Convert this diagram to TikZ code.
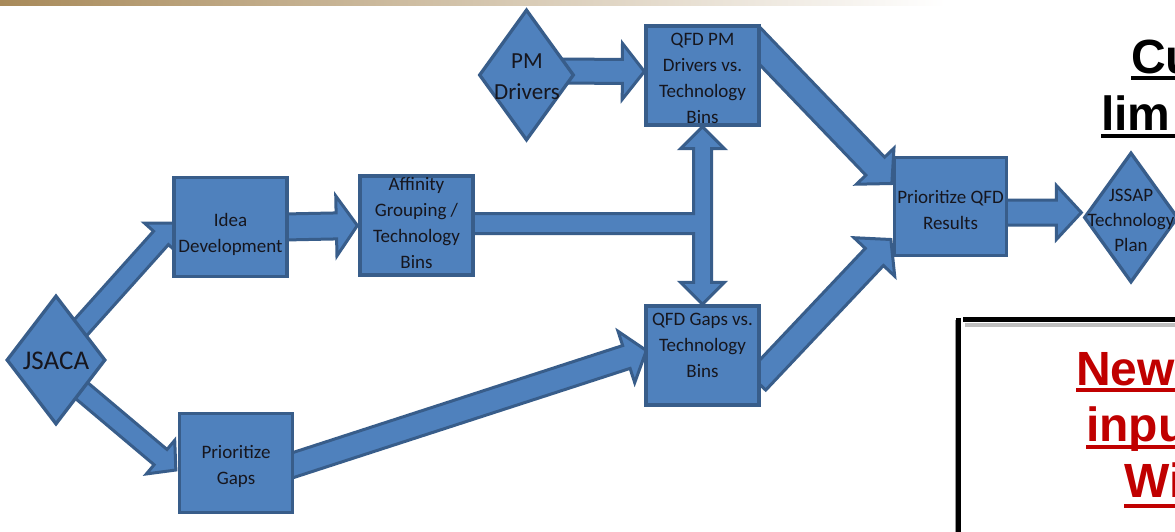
\documentclass[tikz,border=0pt]{standalone}
\usepackage{fontspec}
\setmainfont{Carlito}
\setsansfont{Liberation Sans}
\usetikzlibrary{shapes.geometric,calc,backgrounds}
\definecolor{boxfill}{HTML}{4F81BD}
\definecolor{boxline}{HTML}{385D8A}
\definecolor{txtc}{HTML}{16161E}
\definecolor{redt}{HTML}{C00000}
\definecolor{barA}{RGB}{168,138,90}
\definecolor{barB}{RGB}{218,200,176}
\newcommand\blockarr[5]{%
  \coordinate (bas) at (#1);
  \coordinate (bae) at (#2);
  \coordinate (bab) at ($(bae)!#5!(bas)$);
  \draw[arrowshape] ($(bas)!#3!90:(bae)$) -- ($(bab)!#3!90:(bae)$) -- ($(bab)!#4!90:(bae)$) -- (bae) -- ($(bab)!#4!-90:(bae)$) -- ($(bab)!#3!-90:(bae)$) -- ($(bas)!#3!-90:(bae)$) -- cycle;
}
\tikzset{
  box/.style={draw=boxline, fill=boxfill, line width=3.3pt, minimum width=113pt, minimum height=99pt, inner sep=0pt},
  dia/.style={draw=boxline, fill=boxfill, line width=3.3pt, diamond, inner sep=0pt},
  lbl/.style={align=center, text=txtc, inner sep=0pt, font=\fontsize{19pt}{26pt}\selectfont},
  arrowshape/.style={draw=boxline, fill=boxfill, line width=3pt, line join=miter},
  bigtxt/.style={font=\fontsize{48pt}{56pt}\selectfont\sffamily\bfseries, inner sep=0pt, anchor=base west},
  uline/.style={line width=3.3pt},
}
\begin{document}
\begin{tikzpicture}[x=1pt,y=-1pt]
\useasboundingbox (0,0) rectangle (1175,531);
\begin{scope}[on background layer]
  \fill[white] (0,0) rectangle (1175,531);
\end{scope}
\clip (0,0) rectangle (1175,531);
% top bar
\shade[left color=barA, middle color=barB, right color=white] (0,0) rectangle (945,5);

% nodes
\node[dia, minimum width=99pt, minimum height=129pt] (jsaca) at (56,360) {};
\node[dia, minimum width=95pt, minimum height=131pt] (pmd) at (526.5,75) {};
\node[dia, minimum width=94pt, minimum height=130pt] (jssap) at (1131,217.5) {};
\node[box] (idea) at (230.5,227) {};
\node[box] (gaps) at (236,463) {};
\node[box] (aff) at (416.5,225.5) {};
\node[box] (qgaps) at (702.5,355.5) {};
\node[box] (qpm) at (702.5,75.5) {};
\node[box, minimum width=112pt, minimum height=98pt] (prio) at (950.5,206.5) {};

% texts
\node[lbl, font=\fontsize{27pt}{30pt}\selectfont] (jsacat) at (56,361) {JSACA};
\node[lbl, font=\fontsize{23pt}{31pt}\selectfont] (pmdt) at (527,77) {PM\\Drivers};
\node[lbl, font=\fontsize{19pt}{25pt}\selectfont] (jssapt) at (1131,220) {JSSAP\\Technology\\Plan};
\node[lbl] (ideat) at (230.5,234) {Idea\\Development};
\node[lbl] (gapst) at (236,466) {Prioritize\\Gaps};
\node[lbl] (afft) at (416.5,223) {Affinity\\Grouping /\\Technology\\Bins};
\node[lbl] (qgapst) at (702.5,345) {QFD Gaps vs.\\Technology\\Bins};
\node[lbl] (qpmt) at (702.5,78) {QFD PM\\Drivers vs.\\Technology\\Bins};
\node[lbl] (priot) at (950.5,210) {Prioritize QFD\\Results};

% connectors (behind the nodes)
\begin{scope}[on background layer]
  \blockarr{$(jsaca)+(0,-5)$}{$(idea.west)+(2,-4)$}{10pt}{22pt}{20pt}
  \blockarr{$(jsaca)+(0,9)$}{$(gaps.west)+(-2,7)$}{10pt}{22pt}{20pt}
  \blockarr{$(idea.east)+(-5,0)$}{$(aff.west)+(-1,0)$}{13pt}{30pt}{21pt}
  \blockarr{$(pmd)+(20,-4)$}{$(qpm.west)+(0,-4)$}{12pt}{28pt}{22pt}
  \blockarr{$(gaps.east)+(-10,5)$}{$(qgaps.west)+(2,-5)$}{12pt}{27pt}{21pt}
  \blockarr{$(qpm.east)+(-9,-38)$}{$(prio.west)+(-1,-23)$}{13pt}{26pt}{24pt}
  \blockarr{$(qgaps.east)+(-4,26)$}{$(prio.west)+(-2,33)$}{12.5pt}{28pt}{24pt}
  \blockarr{$(prio.east)+(-5,6)$}{$(jssap.west)+(-1,-5)$}{12.5pt}{27pt}{25pt}
  % affinity bar joined to the two-headed vertical arrow
  \draw[arrowshape]
    ($(aff.east)+(-5,-12)$) -- ($(qpm.south|-aff.east)+(-9,-12)$)
    -- ($(qpm.south)+(-9,22)$) -- ($(qpm.south)+(-22,22)$) -- (qpm.south)
    -- ($(qpm.south)+(22,22)$) -- ($(qpm.south)+(9,22)$)
    -- ($(qgaps.north)+(9,-22)$) -- ($(qgaps.north)+(22,-22)$) -- (qgaps.north)
    -- ($(qgaps.north)+(-22,-22)$) -- ($(qgaps.north)+(-9,-22)$)
    -- ($(qpm.south|-aff.east)+(-9,8)$) -- ($(aff.east)+(-5,8)$) -- cycle;
\end{scope}

% right-hand texts
\node[bigtxt, text=black] (cu) at (1131,73) {Cu};
\draw[uline, black] ($(cu.base west)+(0,5)$) -- ++(80,0);
\node[bigtxt, text=black] (lim) at (1101,130) {lim};
\draw[uline, black] ($(lim.base west)+(0,6)$) -- ++(90,0);

% red framed box
\draw[line width=4pt, black!25] (965,325) -- (1180,325);
\draw[line width=1.5pt, black!40] (955.3,320) -- (955.3,540);
\draw[line width=5pt, black] (958.5,318) -- (958.5,540);
\draw[line width=5pt, black] (963,319.5) -- (1180,319.5);
\node[bigtxt, text=redt] (new) at (1076,385) {New};
\draw[uline, redt] ($(new.base west)+(0,5)$) -- ++(110,0);
\node[bigtxt, text=redt] (inpu) at (1086,441) {inpu};
\draw[uline, redt] ($(inpu.base west)+(0,6)$) -- ++(100,0);
\node[bigtxt, text=redt] (wi) at (1124,497) {Wi};
\draw[uline, redt] ($(wi.base west)+(0,9)$) -- ++(60,0);
\end{tikzpicture}
\end{document}
